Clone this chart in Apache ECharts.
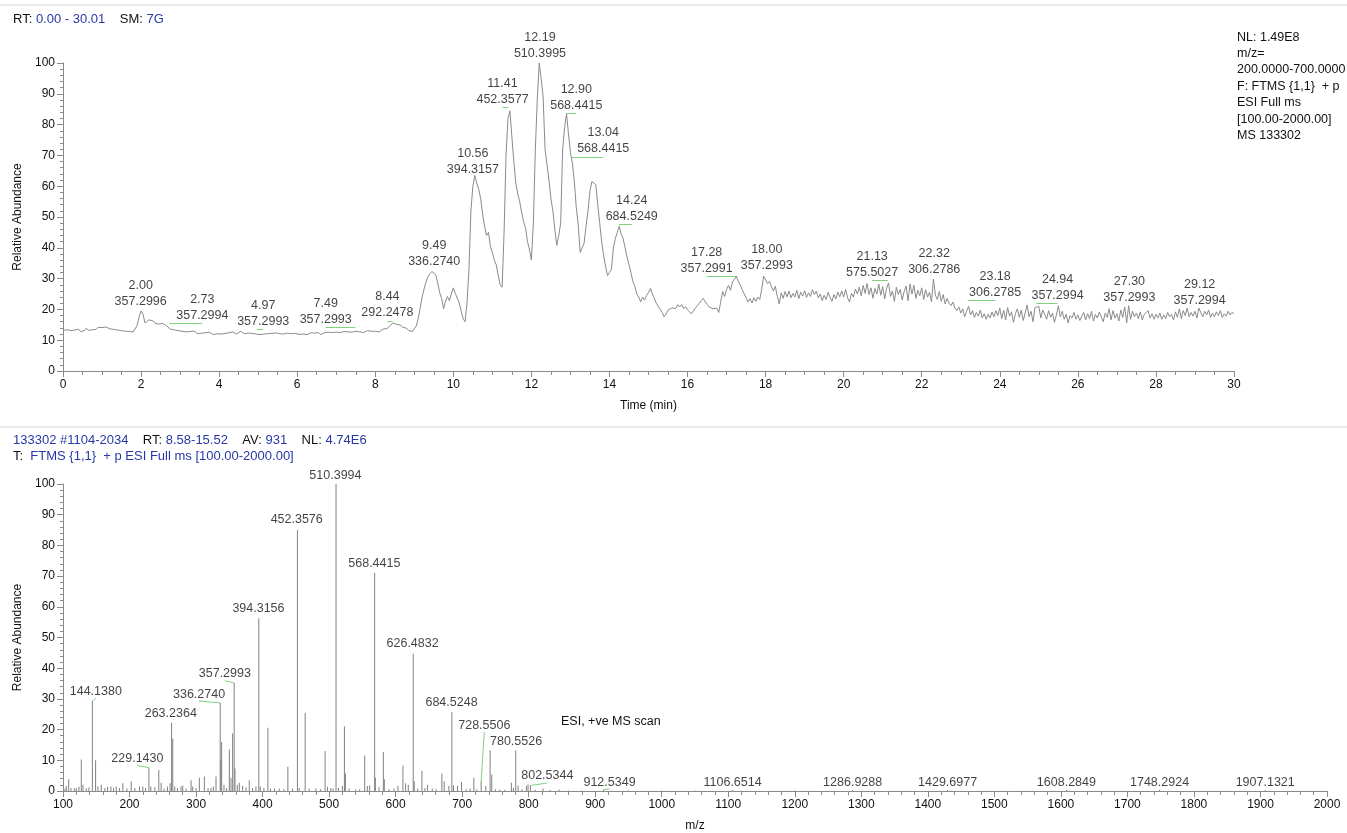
<!DOCTYPE html>
<html>
<head>
<meta charset="utf-8">
<style>
html, body { margin: 0; padding: 0; background: #fff; }
#main { width: 1347px; height: 833px; }
</style>
<script src="https://cdn.jsdelivr.net/npm/echarts@6/dist/echarts.min.js"></script>
</head>
<body>
<div id="main"></div>
<script>
// ---- chromatogram (RT 0-30 min), relative abundance sampled every 0.05 min ----
var rtStart = 0;
var rtStep = 0.05;
var ticValues = [
    13.2,12.6,13.4,12.9,13.1,12.5,13.3,13.0,13.6,12.8,13.4,13.1,13.9,13.2,13.7,13.4,14.0,13.5,14.2,13.8,
    14.1,13.6,14.3,13.9,13.7,14.0,13.5,13.8,13.3,13.6,13.1,13.4,12.9,13.3,12.8,13.1,12.7,13.2,14.8,17.6,
    19.5,18.4,15.6,15.9,16.6,16.0,16.3,15.6,15.9,15.2,15.0,15.5,15.7,14.7,14.1,13.6,13.1,13.4,12.8,13.1,
    12.6,12.9,12.3,12.7,12.2,12.8,12.4,13.0,12.5,12.1,12.7,12.3,12.9,12.4,12.0,12.6,12.2,11.8,12.4,12.1,
    12.5,12.0,12.6,12.2,11.8,12.4,12.1,12.7,12.3,12.0,12.5,12.9,12.4,12.1,12.6,12.3,12.8,12.2,12.6,12.0,
    12.3,11.8,12.4,12.0,12.6,12.1,11.7,12.2,11.9,12.4,11.8,12.1,11.6,12.0,11.9,12.3,11.7,12.1,11.8,12.2,
    12.5,11.9,12.3,12.0,12.6,11.8,12.2,12.4,11.9,12.3,12.0,12.5,11.8,12.1,12.4,12.0,12.6,12.2,12.5,12.1,
    12.6,12.2,12.5,12.3,12.8,12.4,12.7,12.3,12.6,12.2,12.9,13.2,12.7,13.0,12.5,12.8,13.1,12.6,12.9,12.5,
    12.9,13.2,12.7,13.3,13.6,13.2,13.8,14.3,14.9,15.6,15.3,15.1,14.6,14.9,14.2,13.7,13.9,13.2,12.9,12.8,
    13.2,14.6,17.1,20.4,24.0,26.6,28.9,30.6,31.6,32.3,32.5,31.2,28.6,25.4,23.6,20.2,22.7,24.2,22.8,25.1,
    27.0,25.2,24.6,22.1,19.5,17.0,16.0,22.0,33.0,52.0,60.0,63.5,61.0,59.0,56.0,51.0,47.0,44.0,45.0,40.5,
    38.5,36.0,34.5,31.0,28.0,27.2,45.0,70.0,82.0,84.5,76.0,68.0,61.0,57.5,55.0,51.5,48.5,46.5,42.0,39.5,
    36.0,48.0,71.5,88.0,100,95.0,89.0,72.0,67.0,62.0,56.0,52.0,46.0,40.8,44.0,48.0,72.0,79.0,83.5,77.0,
    71.0,67.5,61.5,53.0,47.5,38.5,39.0,41.5,47.0,52.0,58.5,61.5,61.0,60.5,54.0,48.0,42.0,37.5,34.0,31.0,
    32.0,33.0,40.0,43.0,45.0,47.0,44.5,43.0,40.0,37.0,34.5,32.0,29.0,27.5,25.0,24.0,22.5,24.0,23.0,24.5,
    25.5,26.8,25.0,23.5,22.0,21.5,20.0,19.0,17.6,18.5,19.8,19.2,20.5,21.0,20.3,21.5,20.8,21.6,20.2,20.9,
    19.8,19.2,18.6,19.5,20.4,21.2,22.0,22.8,23.6,22.5,21.6,20.8,21.3,20.2,19.8,20.4,19.0,22.5,25.8,24.2,
    26.5,27.8,26.2,28.9,29.5,30.6,29.2,28.0,26.4,25.1,24.6,22.4,23.5,22.1,23.8,22.6,24.0,23.2,26.5,30.8,
    30.2,28.4,29.1,27.3,26.0,27.5,24.2,21.8,25.4,23.6,25.8,24.1,26.0,23.8,25.2,24.0,26.2,23.5,25.6,24.3,
    26.1,23.9,25.4,24.2,26.4,24.8,25.9,23.7,25.0,22.8,24.6,23.2,25.5,24.0,22.6,24.8,23.4,25.6,24.1,26.0,
    24.0,26.5,23.8,22.4,25.2,24.0,26.6,25.0,27.2,24.4,27.8,25.2,28.4,24.8,27.0,23.6,26.8,25.0,28.2,24.6,
    27.4,23.4,26.8,28.6,24.2,26.0,22.6,27.2,24.8,26.5,23.0,25.8,27.6,22.8,28.2,25.0,27.8,23.6,26.2,24.4,
    27.0,23.2,26.4,24.0,25.6,22.4,29.8,24.6,23.2,25.8,22.6,24.8,21.8,23.6,22.0,21.2,22.4,20.4,19.6,20.8,
    18.8,20.2,17.6,19.4,21.0,18.2,19.6,17.4,19.0,17.8,19.8,17.2,18.6,16.8,18.4,17.2,19.2,17.6,19.6,18.0,
    20.4,17.0,19.8,16.6,20.6,17.8,19.2,15.8,18.6,20.2,17.4,19.8,16.4,18.8,21.4,17.6,19.4,16.0,20.6,21.2,
    21.0,17.2,19.8,18.4,16.8,19.6,17.4,18.8,15.8,18.2,21.2,17.6,19.4,16.8,18.4,15.6,18.0,17.2,19.0,16.8,
    18.2,16.4,17.8,19.0,16.6,18.6,17.0,19.4,16.2,18.4,17.2,19.2,17.6,16.0,18.8,17.4,20.2,16.6,19.6,17.2,
    18.6,16.2,19.8,17.4,20.8,15.6,21.2,16.8,19.4,17.6,18.8,17.0,19.2,16.6,18.4,17.8,19.6,17.2,18.6,16.8,
    18.4,17.2,18.8,16.8,18.2,17.0,19.0,17.6,18.4,16.6,19.2,17.4,20.2,17.0,19.6,18.0,20.4,17.6,19.0,17.8,
    19.4,17.2,20.4,20.0,17.6,19.4,18.2,19.8,17.4,18.8,17.6,19.2,18.0,19.6,17.4,18.6,17.8,19.4,18.2,19.0,
    18.6
];

// peak annotations of the chromatogram
var ticPeakRt = ['2.00','2.73','4.97','7.49','8.44','9.49','10.56','11.41','12.19','12.90',
                 '13.04','14.24','17.28','18.00','21.13','22.32','23.18','24.94','27.30','29.12'];
var ticPeakMz = ['357.2996','357.2994','357.2993','357.2993','292.2478','336.2740','394.3157','452.3577','510.3995','568.4415',
                 '568.4415','684.5249','357.2991','357.2993','575.5027','306.2786','306.2785','357.2994','357.2993','357.2994'];
// where each annotation sits (label centre rt, label bottom level)
var ticLabelRt = [1.99,3.57,5.13,6.73,8.31,9.51,10.50,11.26,12.22,13.15,
                  13.84,14.57,16.49,18.03,20.73,22.32,23.88,25.48,27.32,29.12];
var ticLabelLevel = [19.8,15.5,13.5,14.1,16.3,33.0,62.7,85.5,100.5,83.6,
                     69.5,47.6,30.8,31.7,29.5,30.3,23.0,21.9,21.4,20.3];

// ---- averaged mass spectrum ----
var msMz = [103,105,108.5,112,117,120,124,127.5,130,135,139,144.138,149,152.5,157.5,163,167,172,176,180,
            185,190,196,202.5,208,215,220,224,229.143,232,238,244,247.5,252,257,261,263.2364,265,268,272,
            277.5,280,285,292.5,295,300,305,312.5,318,322.5,326,330,336.274,337.3,338.5,342,346,350,352.5,355,
            357.2993,358.5,362,365,370,375,380,385,390,394.3156,396.5,402,408,412,418,425,432,438,445,452.3576,
            455,464,470,480,487,494,497.5,502.5,506,510.3994,514,520,523,524.5,530,540,546,553.5,557.5,561,
            568.4415,569.5,575,581.5,583,590,597.5,603.5,611,615,619,626.4832,628,633,639.5,644,648,655,661,669.5,
            673,680,684.5248,687,693,699,706,712,717.5,722,728.5506,735.5,742,744.5,750,756.5,764,774,777,780.5526,
            784,790,796.5,799,802.5344,810,821.5,832,845.5,860,880,912.5349,950,1000,1050,1106.6514,1200,1286.9288,1429.6977,1608.2849,
            1748.2924,1907.1321];
var msAbund = [0.8,1.6,3.8,1.0,0.8,1.0,1.4,10.3,2.0,0.9,1.2,29.3,10.0,1.5,2.0,1.0,1.4,1.5,1.0,1.5,
               1.0,2.5,0.8,3.2,1.0,1.5,1.5,1.0,7.6,1.5,1.2,6.8,2.7,0.8,1.5,2.5,22.2,17.0,1.5,1.0,
               1.5,1.8,0.8,3.5,1.5,1.0,4.3,4.7,1.0,1.0,1.5,4.7,28.7,10.0,16.0,2.0,1.0,13.5,4.3,18.7,
               35.2,7.3,2.0,2.7,1.6,1.2,3.5,1.0,1.5,56.3,1.5,1.0,20.6,0.8,0.8,0.8,0.6,7.9,0.8,85.0,
               1.0,25.5,0.8,0.8,0.6,13.0,1.4,1.0,0.8,100,1.0,1.6,21.1,5.7,0.8,0.5,0.6,11.6,1.6,1.8,
               71.0,4.3,1.2,12.7,3.8,0.6,0.8,1.6,8.3,2.5,2.0,44.7,3.2,0.8,6.5,1.0,2.0,0.8,0.6,5.7,
               3.2,1.6,25.7,1.8,1.6,2.9,0.6,0.8,4.3,0.6,3.2,1.6,13.3,5.4,0.6,0.5,0.4,2.7,1.0,13.2,
               1.8,0.6,1.6,2.2,1.8,0.4,0.8,0.3,0.5,0.2,0.2,0.5,0.2,0.2,0.2,0.3,0.2,0.3,0.3,0.3,
               0.3,0.3];

// labelled m/z values of the spectrum
var msLabelText = ['144.1380','229.1430','263.2364','336.2740','357.2993','394.3156','452.3576','510.3994','568.4415','626.4832',
                   '684.5248','728.5506','780.5526','802.5344','912.5349','1106.6514','1286.9288','1429.6977','1608.2849','1748.2924','1907.1321'];
var msLabelAt = [149.3,211.8,262,304.5,343.3,393.8,451.3,509.5,568,625.5,
                 684,733.3,781,828,921.5,1106.5,1287,1429.7,1608.3,1748.3,1907.1];
var msLabelLevel = [30.2,8.3,22.9,29.3,35.9,57.1,86,100.6,71.7,45.6,
                    26.4,19.2,13.9,2.6,0.6,0.6,0.6,0.6,0.6,0.6,0.6];

var FONT = 'Liberation Sans, Arial, sans-serif';
var BLUE = '#2638a8';
var AXIS = '#8a8a8a';
var LEAD = '#7fd37f';

var ticData = ticValues.map(function (v, i) {
    return [rtStart + i * rtStep, v];
});
var ticLabels = ticLabelRt.map(function (x, i) {
    return { value: [x, ticLabelLevel[i]], label: { formatter: ticPeakRt[i] + '\n' + ticPeakMz[i] } };
});
var ticLeaders = [];
ticLabelRt.forEach(function (x, i) {
    var p = parseFloat(ticPeakRt[i]);
    if (Math.abs(p - x) > 0.1) {
        ticLeaders.push({ coords: [[p, ticLabelLevel[i]], [x, ticLabelLevel[i]]] });
    }
});

var msData = msMz.map(function (m, i) { return [m, msAbund[i]]; });
var msLabels = msLabelAt.map(function (x, i) {
    return { value: [x, msLabelLevel[i]], label: { formatter: msLabelText[i] } };
});
var msLeaders = [];
msLabelAt.forEach(function (x, i) {
    var p = parseFloat(msLabelText[i]);
    if (Math.abs(p - x) > 4) {
        // height of the stick closest to the labelled m/z
        var best = 0, d = 1e9;
        msMz.forEach(function (m, j) {
            if (Math.abs(m - p) < d) { d = Math.abs(m - p); best = j; }
        });
        msLeaders.push({ coords: [[p, msAbund[best]], [x, msLabelLevel[i]]] });
    }
});

function xAxisCfg(grid, min, max, interval, minor, name) {
    return {
        type: 'value', gridIndex: grid, min: min, max: max, interval: interval,
        name: name, nameLocation: 'middle', nameGap: 29,
        nameTextStyle: { color: '#111', fontSize: 12, fontFamily: FONT },
        axisLine: { show: true, lineStyle: { color: AXIS, width: 1 } },
        axisTick: { show: true, length: 6, lineStyle: { color: AXIS } },
        minorTick: { show: true, splitNumber: minor, length: 4, lineStyle: { color: AXIS } },
        splitLine: { show: false },
        minorSplitLine: { show: false },
        axisLabel: { color: '#111', fontSize: 12, fontFamily: FONT, margin: 8,
            formatter: function (v) { return String(v); } }
    };
}
function yAxisCfg(grid) {
    return {
        type: 'value', gridIndex: grid, min: 0, max: 100, interval: 10,
        name: 'Relative Abundance', nameLocation: 'middle', nameGap: 30, nameRotate: 90,
        nameTextStyle: { color: '#111', fontSize: 12, fontFamily: FONT },
        axisLine: { show: true, lineStyle: { color: AXIS, width: 1 } },
        axisTick: { show: true, length: 6, lineStyle: { color: AXIS } },
        minorTick: { show: true, splitNumber: 5, length: 3, lineStyle: { color: AXIS } },
        splitLine: { show: false },
        minorSplitLine: { show: false },
        axisLabel: { color: '#111', fontSize: 12, fontFamily: FONT, margin: 8 }
    };
}

var myChart = echarts.init(document.getElementById('main'));
var option = {
    animation: false,
    backgroundColor: '#fff',
    textStyle: { fontFamily: FONT },
    title: [
        {
            left: 13, top: 13, padding: 0,
            text: '{k|RT:} 0.00 - 30.01    {k|SM:} 7G',
            textStyle: { color: BLUE, fontSize: 13, fontWeight: 'normal', fontFamily: FONT,
                rich: { k: { color: '#111', fontSize: 13, fontFamily: FONT } } }
        },
        {
            left: 1237, top: 29, padding: 0,
            text: 'NL: 1.49E8\nm/z=\n200.0000-700.0000\nF: FTMS {1,1}  + p\nESI Full ms\n[100.00-2000.00]\nMS 133302',
            textStyle: { color: '#111', fontSize: 12.5, fontWeight: 'normal', fontFamily: FONT, lineHeight: 16.4 }
        },
        {
            left: 13, top: 434, padding: 0,
            text: '133302 #1104-2034    {k|RT:} 8.58-15.52    {k|AV:} 931    {k|NL:} 4.74E6',
            textStyle: { color: BLUE, fontSize: 13, fontWeight: 'normal', fontFamily: FONT,
                rich: { k: { color: '#111', fontSize: 13, fontFamily: FONT } } }
        },
        {
            left: 13, top: 450, padding: 0,
            text: '{k|T:}  FTMS {1,1}  + p ESI Full ms [100.00-2000.00]',
            textStyle: { color: BLUE, fontSize: 13, fontWeight: 'normal', fontFamily: FONT,
                rich: { k: { color: '#111', fontSize: 13, fontFamily: FONT } } }
        }
    ],
    graphic: [
        { type: 'line', shape: { x1: 0, y1: 5, x2: 1347, y2: 5 }, style: { stroke: '#d4d4d4', lineWidth: 1 } },
        { type: 'line', shape: { x1: 0, y1: 427, x2: 1347, y2: 427 }, style: { stroke: '#d4d4d4', lineWidth: 1 } },
        { type: 'text', left: 561, top: 715, style: { text: 'ESI, +ve MS scan', fill: '#111', fontSize: 12.5, fontFamily: FONT } }
    ],
    grid: [
        { left: 63, top: 63, width: 1171, height: 308 },
        { left: 63, top: 484, width: 1264, height: 308 }
    ],
    xAxis: [
        xAxisCfg(0, 0, 30, 2, 4, 'Time (min)'),
        xAxisCfg(1, 100, 2000, 100, 5, 'm/z')
    ],
    yAxis: [yAxisCfg(0), yAxisCfg(1)],
    series: [
        {
            type: 'line', xAxisIndex: 0, yAxisIndex: 0,
            data: ticData, showSymbol: false, silent: true,
            lineStyle: { color: '#8a8a8a', width: 1 }
        },
        {
            type: 'lines', coordinateSystem: 'cartesian2d', xAxisIndex: 0, yAxisIndex: 0,
            silent: true, data: ticLeaders,
            lineStyle: { color: LEAD, width: 1, opacity: 1 }
        },
        {
            type: 'scatter', xAxisIndex: 0, yAxisIndex: 0, symbolSize: 0, silent: true, clip: false,
            data: ticLabels,
            label: { show: true, position: 'top', distance: 0, color: '#111', fontSize: 12.5,
                fontFamily: FONT, lineHeight: 16, align: 'center' }
        },
        {
            type: 'bar', xAxisIndex: 1, yAxisIndex: 1,
            data: msData, barWidth: 1, silent: true,
            itemStyle: { color: '#808080' }
        },
        {
            type: 'lines', coordinateSystem: 'cartesian2d', xAxisIndex: 1, yAxisIndex: 1,
            silent: true, data: msLeaders,
            lineStyle: { color: LEAD, width: 1, opacity: 1 }
        },
        {
            type: 'scatter', xAxisIndex: 1, yAxisIndex: 1, symbolSize: 0, silent: true, clip: false,
            data: msLabels,
            label: { show: true, position: 'top', distance: 0, color: '#111', fontSize: 12.5,
                fontFamily: FONT, lineHeight: 14, align: 'center' }
        }
    ]
};
myChart.setOption(option);
window.addEventListener('resize', function () {
    myChart.resize();
});
</script>
</body>
</html>
